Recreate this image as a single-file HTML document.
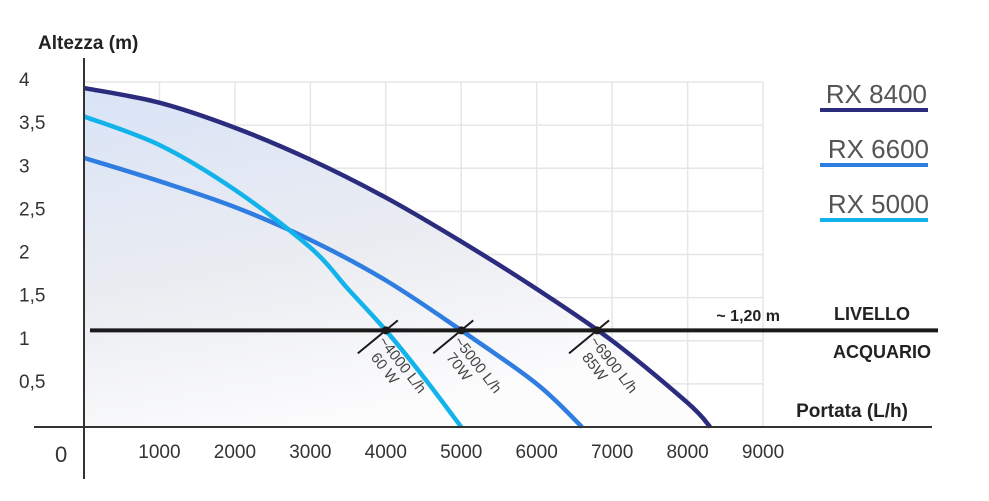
<!DOCTYPE html>
<html><head><meta charset="utf-8">
<style>
html,body{margin:0;padding:0;background:#fff;}
svg{display:block;font-family:"Liberation Sans",sans-serif;}
</style></head>
<body>
<svg id="chart" width="989" height="501" viewBox="0 0 989 501" xmlns="http://www.w3.org/2000/svg">
<defs>
<linearGradient id="fillGrad" x1="0" y1="0" x2="0.35" y2="1">
<stop offset="0" stop-color="#d9e4f7"/>
<stop offset="0.55" stop-color="#eaecf1"/>
<stop offset="1" stop-color="#fcfcfd"/>
</linearGradient>
</defs>
<g id="grid"></g>
<path id="area" fill="url(#fillGrad)" stroke="none"/>
<g id="series"></g>
<g id="axes"></g>
<g id="annot"></g>
<text x="38" y="49" font-size="19" font-weight="bold" fill="#222">Altezza (m)</text>
<text x="908" y="417" font-size="19" font-weight="bold" fill="#222" text-anchor="end">Portata (L/h)</text>
<text x="780" y="321" font-size="16" font-weight="bold" fill="#222" text-anchor="end">~ 1,20 m</text>
<text x="910" y="320" font-size="18" font-weight="bold" fill="#222" text-anchor="end">LIVELLO</text>
<text x="931" y="358" font-size="18" font-weight="bold" fill="#222" text-anchor="end">ACQUARIO</text>
<g>
<text x="927" y="103" font-size="26" fill="#555" text-anchor="end">RX 8400</text>
<rect x="820" y="108" width="108" height="4" fill="#2b2c7e"/>
<text x="929" y="158" font-size="26" fill="#555" text-anchor="end">RX 6600</text>
<rect x="820" y="163" width="108" height="4" fill="#2f7de0"/>
<text x="929" y="213" font-size="26" fill="#555" text-anchor="end">RX 5000</text>
<rect x="820" y="218" width="108" height="4" fill="#12b2ea"/>
</g>
</svg>
<script>
const xTicks = [1000,2000,3000,4000,5000,6000,7000,8000,9000];
const yTicks = [0.5,1,1.5,2,2.5,3,3.5,4];
const yTickLabels = ["0,5","1","1,5","2","2,5","3","3,5","4"];
const rx8400Flow = [0,1000,2000,3000,4000,5000,6000,7000,8000,8300];
const rx8400Head = [3.93,3.76,3.47,3.1,2.66,2.15,1.6,1.0,0.28,0];
const rx6600Flow = [0,1000,2000,3000,4000,5000,6000,6600];
const rx6600Head = [3.12,2.85,2.55,2.17,1.7,1.12,0.5,0];
const rx5000Flow = [0,1000,2000,3000,3500,4000,4500,5000];
const rx5000Head = [3.6,3.27,2.75,2.08,1.6,1.12,0.58,0];
const levelHead = 1.12;
const opFlow = [4000,5000,6800];
const opLine1 = ["~4000 L/h","~5000 L/h","~6900 L/h"];
const opLine2 = ["60 W","70W","85W"];

const NS="http://www.w3.org/2000/svg";
const X = v => 84 + v*0.07545;
const Y = v => 427 - v*86.25;
function mk(tag, attrs, parent){const e=document.createElementNS(NS,tag);for(const k in attrs)e.setAttribute(k,attrs[k]);parent.appendChild(e);return e;}
function smooth(fl, hd){
  const p = fl.map((f,i)=>[X(f),Y(hd[i])]);
  let d = "M"+p[0][0]+","+p[0][1];
  for(let i=0;i<p.length-1;i++){
    const p0=p[Math.max(0,i-1)],p1=p[i],p2=p[i+1],p3=p[Math.min(p.length-1,i+2)];
    const c1=[p1[0]+(p2[0]-p0[0])/6,p1[1]+(p2[1]-p0[1])/6];
    const c2=[p2[0]-(p3[0]-p1[0])/6,p2[1]-(p3[1]-p1[1])/6];
    d+=" C"+c1[0]+","+c1[1]+" "+c2[0]+","+c2[1]+" "+p2[0]+","+p2[1];
  }
  return d;
}
const grid=document.getElementById('grid');
const gTop = Y(4);
xTicks.forEach(t=>{
  const l=mk('line',{x1:X(t),x2:X(t),y1:gTop,y2:427,stroke:'#e6e6e6','stroke-width':1.5},grid);
  
  
});
yTicks.forEach(t=>{
  const l=mk('line',{x1:84,x2:X(9000),y1:Y(t),y2:Y(t),stroke:'#e6e6e6','stroke-width':1.5},grid);
  
  
});
const c84 = smooth(rx8400Flow,rx8400Head);
document.getElementById('area').setAttribute('d', c84+" L"+X(0)+","+Y(0)+" Z");
const ser=document.getElementById('series');
[[rx6600Flow,rx6600Head,'#2f7de0','rx6600'],[rx5000Flow,rx5000Head,'#12b2ea','rx5000'],[rx8400Flow,rx8400Head,'#2b2c7e','rx8400']].forEach(s=>{
  const p=mk('path',{d:smooth(s[0],s[1]),fill:'none',stroke:s[2],'stroke-width':4.5},ser);
  
  
});
const ax=document.getElementById('axes');
let a=mk('line',{x1:84,x2:84,y1:58,y2:479,stroke:'#333','stroke-width':2},ax);


a=mk('line',{x1:34,x2:932,y1:427,y2:427,stroke:'#333','stroke-width':2},ax);


xTicks.forEach(t=>{
  const e=mk('text',{x:X(t),y:458,'font-size':19,fill:'#333','text-anchor':'middle'},ax);
  e.textContent=t;
  
  
});
yTicks.forEach((t,i)=>{
  const e=mk('text',{x:19,y:Y(t)+4,'font-size':19,fill:'#333'},ax);
  e.textContent=yTickLabels[i];
  
  
});
const z=mk('text',{x:55,y:462,'font-size':22,fill:'#333'},ax);
z.textContent='0';


const an=document.getElementById('annot');
const ly=Y(levelHead);
const lv=mk('line',{x1:90,x2:938,y1:ly,y2:ly,stroke:'#1a1a1a','stroke-width':4},an);


opFlow.forEach((f,i)=>{
  const x=X(f);
  const t=mk('line',{x1:x-28,x2:x+12,y1:ly+23,y2:ly-10,stroke:'#1a1a1a','stroke-width':2},an);
  
  
  const d=mk('circle',{cx:x,cy:ly,r:4,fill:'#1a1a1a'},an);
  
  
  const g=mk('g',{transform:'translate('+(x-8)+','+(ly+11)+') rotate(52)'},an);
  
  
  const t1=mk('text',{x:0,y:0,'font-size':15,fill:'#444'},g);
  t1.textContent=opLine1[i];
  const t2=mk('text',{x:8,y:16,'font-size':15,fill:'#444'},g);
  t2.textContent=opLine2[i];
});
</script>
</body></html>
